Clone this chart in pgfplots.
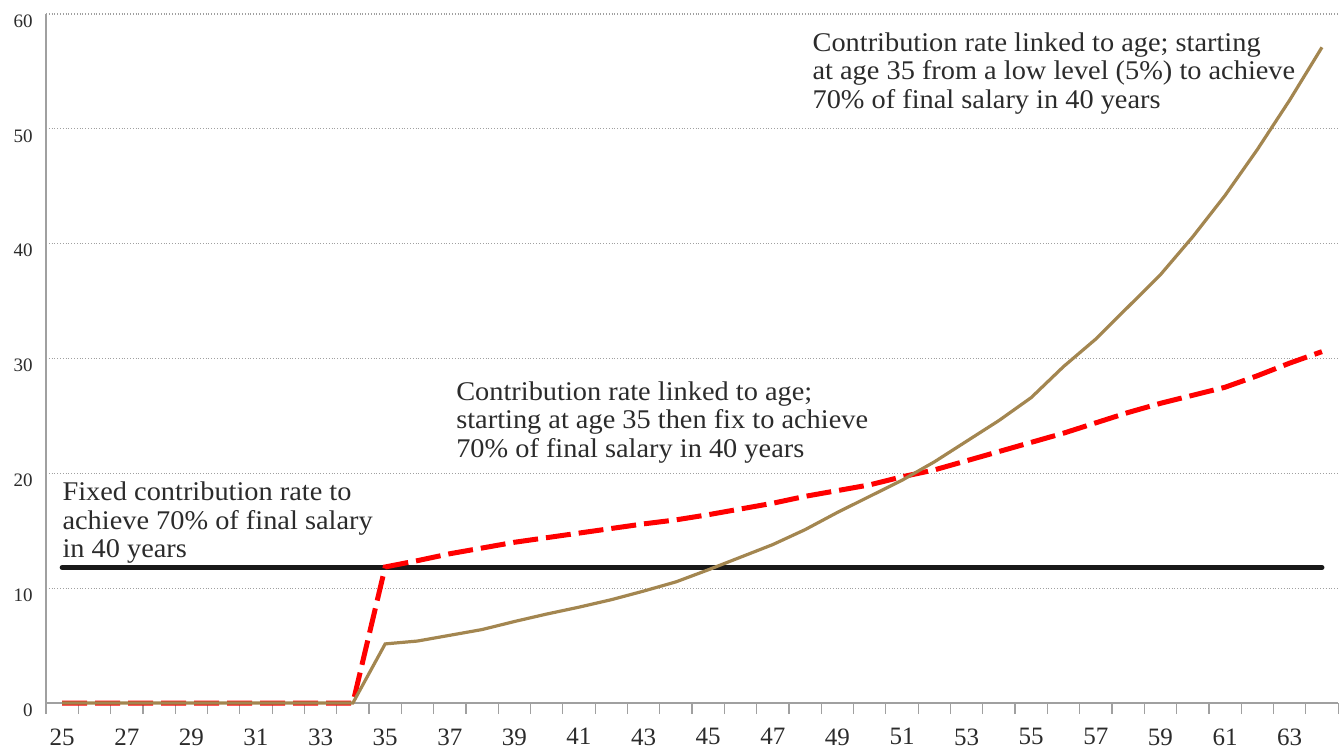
\documentclass[border=0pt]{standalone}
\usepackage{fontspec}
\setmainfont{Liberation Serif}
\newfontfamily\notefont[FakeStretch=1.05]{Liberation Serif}
\usepackage{pgfplots}
\pgfplotsset{compat=1.18}

\definecolor{gold}{RGB}{163,134,80}
\definecolor{txt}{RGB}{43,43,43}
\definecolor{axgray}{RGB}{160,160,160}

\begin{document}
\begin{tikzpicture}
\begin{axis}[
  scale only axis,
  width=646pt, height=344.5pt,
  xmin=24.5, xmax=64.5,
  ymin=0, ymax=60,
  axis x line=bottom, axis y line=left,
  axis line style={-, axgray, line width=0.75pt},
  xtick={25,27,...,63},
  minor xtick={24.5,25.5,...,64.5},
  ytick={0,10,...,60},
  major tick length=0pt,
  minor tick length=5.5pt,
  tick align=outside,
  minor tick style={axgray, line width=0.6pt},
  ymajorgrids,
  major grid style={densely dotted, axgray, line width=0.6pt},
  /pgf/number format/assume math mode=true,
  xticklabel style={font=\fontsize{12.5}{14}\selectfont, text=txt, inner sep=0pt, anchor=north, yshift=-12.5pt},
  yticklabel style={font=\fontsize{9.5}{11}\selectfont, text=txt, inner sep=0pt, anchor=east, xshift=-6.5pt, yshift=-3.5pt},
  clip=false,
]

% fixed rate
\addplot[no marks, color=black!90, line width=2.5pt, line cap=round] coordinates {
  (25,11.8) (64,11.8)
};

% linked to age, then fixed
\addplot[no marks, color=red, line width=2.5pt, dash pattern=on 12.5pt off 4pt] coordinates {
  (25,0) (26,0) (27,0) (28,0) (29,0) (30,0) (31,0) (32,0) (33,0) (34,0)
  (35,11.85) (36,12.4) (37,13.0) (38,13.5) (39,14.0) (40,14.4) (41,14.8)
  (42,15.2) (43,15.6) (44,15.95) (45,16.4) (46,16.9) (47,17.4) (48,18.0)
  (49,18.5) (50,19.0) (51,19.7) (52,20.3) (53,21.1) (54,21.9) (55,22.7)
  (56,23.5) (57,24.4) (58,25.3) (59,26.1) (60,26.8) (61,27.5) (62,28.5)
  (63,29.6) (64,30.6)
};

% linked to age from low level
\addplot[no marks, color=gold, line width=1.6pt] coordinates {
  (25,0) (26,0) (27,0) (28,0) (29,0) (30,0) (31,0) (32,0) (33,0) (34,0)
  (35,5.15) (36,5.4) (37,5.9) (38,6.4) (39,7.1) (40,7.75) (41,8.35)
  (42,9.0) (43,9.75) (44,10.55) (45,11.6) (46,12.7) (47,13.8) (48,15.1)
  (49,16.6) (50,18.0) (51,19.4) (52,21.0) (53,22.8) (54,24.6) (55,26.6)
  (56,29.3) (57,31.7) (58,34.5) (59,37.3) (60,40.6) (61,44.2) (62,48.2)
  (63,52.5) (64,57.1)
};

\node[anchor=north west, align=left, inner sep=0pt, text=txt,
  font=\notefont\fontsize{13.5}{14.4}\selectfont] at (axis cs:25.0,19.33)
  {Fixed contribution rate to\\achieve 70\% of final salary\\in 40 years};
\node[anchor=north west, align=left, inner sep=0pt, text=txt,
  font=\notefont\fontsize{13.5}{14.4}\selectfont] at (axis cs:37.19,28.04)
  {Contribution rate linked to age;\\starting at age 35 then fix to achieve\\70\% of final salary in 40 years};
\node[anchor=north west, align=left, inner sep=0pt, text=txt,
  font=\notefont\fontsize{13.5}{14.4}\selectfont] at (axis cs:48.22,58.43)
  {Contribution rate linked to age; starting\\at age 35 from a low level (5\%) to achieve\\70\% of final salary in 40 years};

\coordinate (bl) at (axis cs:23.076,-4.006);
\coordinate (tr) at (axis cs:64.59,61.22);
\end{axis}
\pgfresetboundingbox
\path (bl) rectangle (tr);
\end{tikzpicture}
\end{document}
